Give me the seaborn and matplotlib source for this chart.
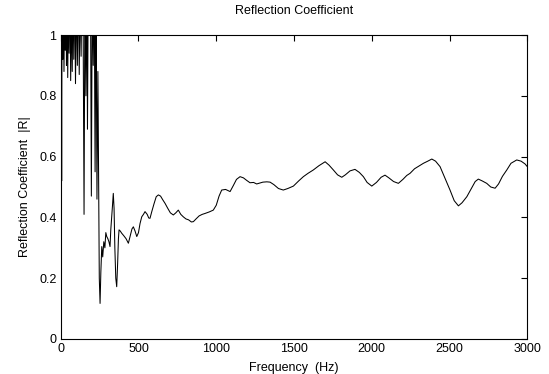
import numpy as np
import pandas as pd
import matplotlib
matplotlib.use("Agg")
import matplotlib.pyplot as plt
import seaborn as sns

# Low-frequency band: strongly oscillating, exceeds 1 and is clipped by the axis
low_freq = [0, 3, 6, 9, 13, 17, 21, 25, 29, 33, 37, 41, 45, 49, 54, 59, 64, 69,
            74, 79, 84, 89, 95, 101, 107, 113, 119, 125, 131, 137, 144, 150, 156,
            162, 168, 172, 178, 185, 191, 197, 203, 209, 215, 221, 227, 233, 239,
            244, 248, 253, 258, 264, 270, 277, 284, 290, 296, 303, 310, 317, 322,
            328, 333, 338, 343, 348, 354, 360, 366, 371, 375, 383, 392]
low_refl = [1.00, 1.25, 0.52, 1.25, 0.92, 1.15, 0.88, 1.15, 0.95, 1.20, 0.90,
            1.15, 0.86, 1.10, 0.94, 1.20, 0.85, 1.10, 0.88, 1.15, 0.92, 1.20,
            0.84, 1.15, 0.90, 1.20, 0.87, 1.15, 0.93, 1.20, 1.05, 0.41, 1.20,
            0.80, 1.20, 0.69, 1.25, 1.10, 1.20, 0.47, 1.20, 0.90, 1.20, 0.55,
            1.15, 0.46, 0.88, 0.50, 0.20, 0.117, 0.22, 0.304, 0.27, 0.32, 0.30,
            0.35, 0.337, 0.33, 0.32, 0.304, 0.36, 0.402, 0.44, 0.479, 0.43, 0.30,
            0.20, 0.172, 0.25, 0.33, 0.359, 0.355, 0.348]

# Upper band: smoother response around 0.4-0.6
high_freq = [405, 420, 435, 447, 458, 467, 478, 489, 500, 510, 521, 532, 542, 556,
             566, 574, 586, 600, 614, 628, 642, 656, 671, 688, 705, 724, 740, 756,
             772, 788, 805, 822, 840, 853, 870, 890, 910, 928, 955, 981, 1000, 1018,
             1035, 1060, 1089, 1110, 1130, 1153, 1175, 1195, 1217, 1240, 1260, 1281,
             1300, 1325, 1346, 1370, 1400, 1431, 1460, 1496, 1530, 1560, 1590, 1624,
             1660, 1700, 1725, 1753, 1780, 1807, 1830, 1860, 1892, 1920, 1946, 1970,
             2000, 2030, 2060, 2085, 2110, 2140, 2171, 2200, 2225, 2246, 2275, 2300,
             2332, 2360, 2386, 2410, 2439, 2470, 2503, 2530, 2557, 2580, 2611, 2640,
             2665, 2685, 2710, 2739, 2765, 2793, 2815, 2840, 2868, 2895, 2932, 2960,
             2985, 3000]
high_refl = [0.34, 0.33, 0.315, 0.34, 0.362, 0.369, 0.355, 0.337, 0.35, 0.38, 0.402,
             0.41, 0.419, 0.41, 0.398, 0.397, 0.42, 0.445, 0.468, 0.474, 0.47, 0.458,
             0.446, 0.43, 0.415, 0.408, 0.415, 0.424, 0.41, 0.402, 0.395, 0.392, 0.385,
             0.386, 0.395, 0.405, 0.41, 0.413, 0.418, 0.424, 0.44, 0.47, 0.49, 0.492,
             0.485, 0.505, 0.525, 0.534, 0.53, 0.522, 0.514, 0.515, 0.51, 0.513, 0.516,
             0.517, 0.516, 0.508, 0.495, 0.49, 0.495, 0.503, 0.52, 0.534, 0.545, 0.556,
             0.57, 0.583, 0.572, 0.556, 0.54, 0.532, 0.54, 0.553, 0.558, 0.548, 0.534,
             0.515, 0.503, 0.515, 0.532, 0.539, 0.53, 0.518, 0.512, 0.525, 0.538, 0.545,
             0.56, 0.568, 0.578, 0.585, 0.592, 0.585, 0.567, 0.53, 0.49, 0.455, 0.438,
             0.448, 0.468, 0.495, 0.518, 0.526, 0.52, 0.512, 0.50, 0.496, 0.51, 0.535,
             0.556, 0.578, 0.589, 0.585, 0.576, 0.567]

x_ticks = [0, 500, 1000, 1500, 2000, 2500, 3000]
y_ticks = [0, 0.2, 0.4, 0.6, 0.8, 1.0]
y_tick_labels = ["0", "0.2", "0.4", "0.6", "0.8", "1"]

df = pd.DataFrame({
    "freq": low_freq + high_freq,
    "refl": low_refl + high_refl,
})

sns.set_style("white")
plt.rcParams["font.family"] = ["Liberation Sans", "DejaVu Sans"]

fig = plt.figure(figsize=(5.49, 3.74), dpi=100)
ax = fig.add_axes([0.1106, 0.0936, 0.8499, 0.8128])

sns.lineplot(data=df, x="freq", y="refl", ax=ax, color="black",
             linewidth=0.75, estimator=None, sort=False)

ax.set_xlim(0, 3000)
ax.set_ylim(0, 1)
ax.set_xticks(x_ticks)
ax.set_xticklabels([str(t) for t in x_ticks])
ax.set_yticks(y_ticks)
ax.set_yticklabels(y_tick_labels)

ax.tick_params(direction="in", length=4, width=0.8, top=True, right=True,
               labelsize=9, colors="black", pad=3)
for side in ["left", "right", "top", "bottom"]:
    ax.spines[side].set_visible(True)
    ax.spines[side].set_color("black")
    ax.spines[side].set_linewidth(0.8)

ax.set_title("Reflection Coefficient", fontsize=9, pad=15, color="black")
ax.set_xlabel("Frequency  (Hz)", fontsize=9, labelpad=5, color="black")
ax.set_ylabel("Reflection Coefficient  |R|", fontsize=9, labelpad=6, color="black")
ax.grid(False)

fig.savefig("out.png", dpi=100, facecolor="white")
